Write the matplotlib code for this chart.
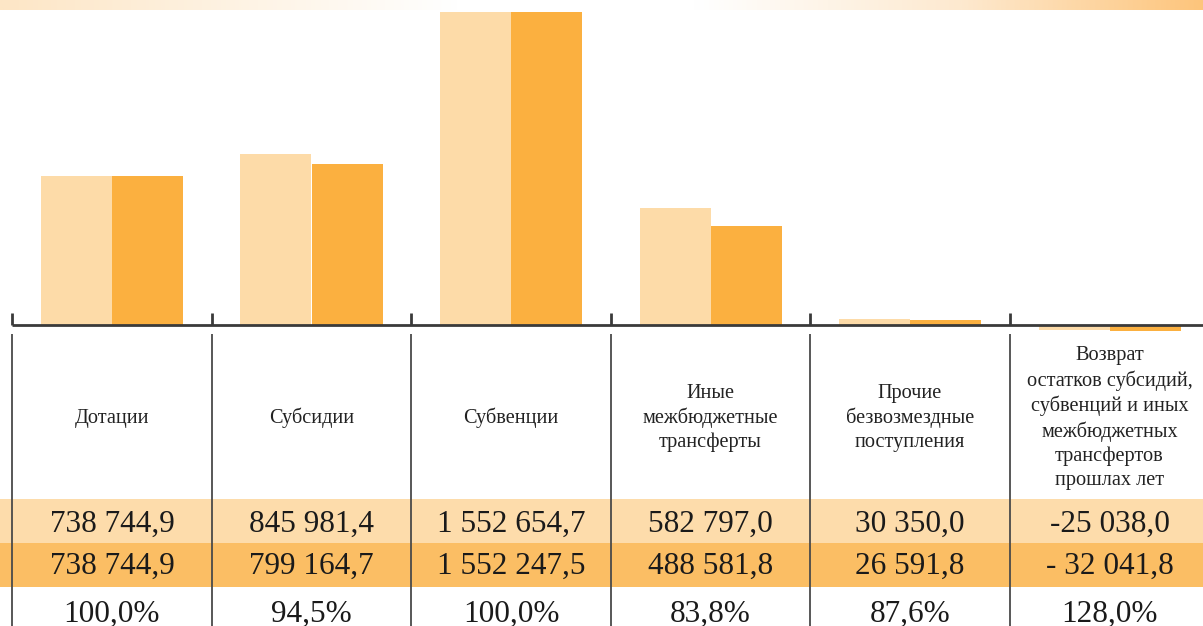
import numpy as np
import matplotlib
matplotlib.use("Agg")
import matplotlib.pyplot as plt
from matplotlib.colors import LinearSegmentedColormap

categories = [
    "Дотации",
    "Субсидии",
    "Субвенции",
    "Иные\nмежбюджетные\nтрансферты",
    "Прочие\nбезвозмездные\nпоступления",
    "Возврат\nостатков субсидий,\nсубвенций и иных\nмежбюджетных\nтрансфертов\nпрошлах лет",
]
plan_values = [738744.9, 845981.4, 1552654.7, 582797.0, 30350.0, -25038.0]
fact_values = [738744.9, 799164.7, 1552247.5, 488581.8, 26591.8, -32041.8]
plan_labels = ["738 744,9", "845 981,4", "1 552 654,7", "582 797,0", "30 350,0", "-25 038,0"]
fact_labels = ["738 744,9", "799 164,7", "1 552 247,5", "488 581,8", "26 591,8", "- 32 041,8"]
pct_labels = ["100,0%", "94,5%", "100,0%", "83,8%", "87,6%", "128,0%"]

LIGHT = "#FDDBA8"
DARK = "#FBB040"
ROW_LIGHT = "#FDDCAB"
ROW_DARK = "#FBBE64"
LINE = "#3a3a3a"
SERIF = ["Liberation Serif", "DejaVu Serif"]

W, H = 1203, 626
fig = plt.figure(figsize=(W / 100, H / 100), dpi=100)

# overlay axes in pixel coordinates (top-left origin) for decoration/table
ov = fig.add_axes([0, 0, 1, 1])
ov.set_xlim(0, W)
ov.set_ylim(H, 0)
ov.axis("off")

# top gradient strip
cmap = LinearSegmentedColormap.from_list(
    "g", [(0.0, "#FDE6C6"), (0.38, "#FFFFFF"), (0.58, "#FFFFFF"), (0.8, "#FDE9CF"), (1.0, "#FDC57C")])
grad = np.linspace(0, 1, 512)[None, :]
ov.imshow(grad, cmap=cmap, extent=[0, W, 10, 0], aspect="auto", zorder=0)

# table rows
ov.fill_between([0, W], 499, 543, color=ROW_LIGHT, lw=0, zorder=1)
ov.fill_between([0, W], 543, 587, color=ROW_DARK, lw=0, zorder=1)

group_w = 199.5
c0 = 112.0
n = len(categories)
for i in range(n):
    xb = c0 - group_w / 2 + i * group_w
    ov.plot([xb, xb], [334, H], color="#4a4a4a", lw=1.3, zorder=2, solid_capstyle="butt")
    cx = c0 + i * group_w
    ov.text(cx, 418, categories[i], ha="center", va="center", fontsize=14.6,
            family=SERIF, color="#222222", linespacing=1.33, zorder=3)
    ov.text(cx, 531.5, plan_labels[i], ha="center", va="baseline", fontsize=22.5,
            family=SERIF, color="#1a1a1a", zorder=3)
    ov.text(cx, 573.5, fact_labels[i], ha="center", va="baseline", fontsize=22.5,
            family=SERIF, color="#1a1a1a", zorder=3)
    ov.text(cx, 622, pct_labels[i], ha="center", va="baseline", fontsize=22.5,
            family=SERIF, color="#1a1a1a", zorder=3)

# bar axes
px_per_val = 1 / 4960.0
base_px = 325
top_px = 0
bot_px = 340
ax = fig.add_axes([0, 1 - bot_px / H, 1, (bot_px - top_px) / H])
ax.set_xlim(-c0 / group_w, (W - c0) / group_w)
ymax = (base_px - top_px) / px_per_val
ymin = -(bot_px - base_px) / px_per_val
ax.set_ylim(ymin, ymax)
ax.axis("off")
ax.patch.set_alpha(0)

x = np.arange(n)
bw = 71 / group_w
ax.bar(x - bw / 2, plan_values, width=bw, color=LIGHT, lw=0, zorder=2)
ax.bar(x + bw / 2, fact_values, width=bw, color=DARK, lw=0, zorder=2)

tick_h = 12 / px_per_val
ax.plot([-0.5, (W - c0) / group_w], [0, 0], color=LINE, lw=2.0, zorder=3, solid_capstyle="butt")
for i in range(n):
    ax.plot([i - 0.5, i - 0.5], [0, tick_h], color=LINE, lw=2.0, zorder=3, solid_capstyle="butt")

fig.savefig("out.png", dpi=100)
